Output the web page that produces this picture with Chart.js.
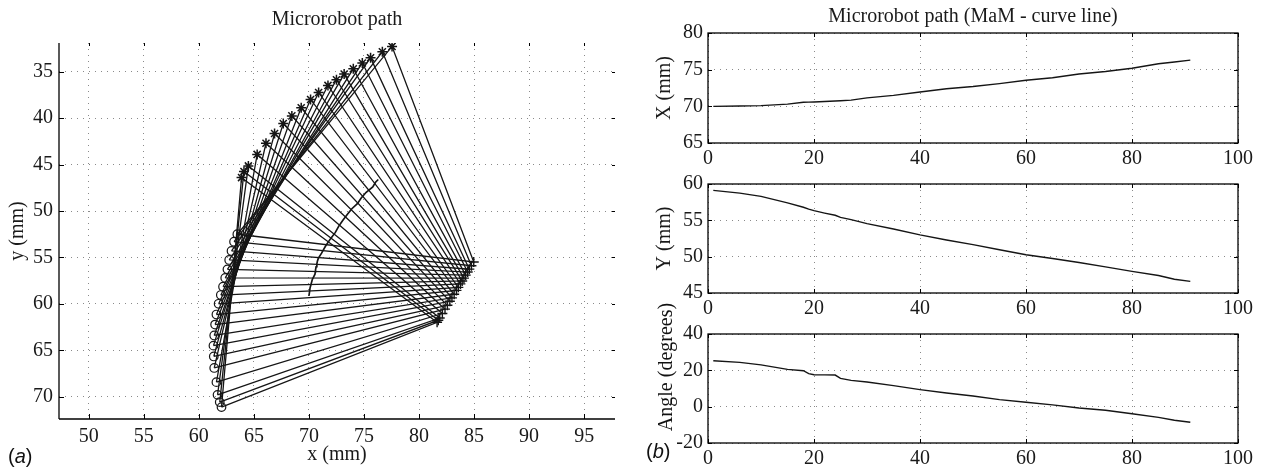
<!DOCTYPE html>
<html><head><meta charset="utf-8">
<script src="https://cdn.jsdelivr.net/npm/chart.js@4.4.1/dist/chart.umd.min.js"></script>
<style>
html,body{margin:0;padding:0;background:#fff;}
#wrap{position:relative;width:1263px;height:467px;overflow:hidden;background:#fff;}
canvas{position:absolute;}
.lab{position:absolute;font-family:'Liberation Sans',Arial,sans-serif;font-size:20px;color:#111;line-height:1;white-space:nowrap;}
.rot{position:absolute;font-family:'Liberation Serif','Times New Roman',serif;font-size:20px;color:#111;white-space:nowrap;line-height:1;transform:translate(-50%,-50%) rotate(-90deg);}
</style></head><body>
<div id="wrap">
<canvas id="c0" width="640" height="467" style="left:0;top:0"></canvas>
<canvas id="c1" width="623" height="170" style="left:640px;top:0"></canvas>
<canvas id="c2" width="623" height="170" style="left:640px;top:150px"></canvas>
<canvas id="c3" width="623" height="167" style="left:640px;top:300px"></canvas>
<div class="lab" style="left:8px;top:446px">(<i>a</i>)</div>
<div class="lab" style="left:646px;top:441px">(<i>b</i>)</div>
<div class="rot" style="left:665px;top:367px">Angle (degrees)</div>
</div>
<script>
// ---- time series (sample index) ----
const tSample = [1,6,10,15,18,19,20,22,24,25,27,30,35,40,45,50,55,60,65,70,75,80,85,88,91];
const xPos = [70.0,70.05,70.1,70.3,70.55,70.58,70.6,70.65,70.72,70.77,70.85,71.15,71.5,71.95,72.4,72.7,73.1,73.55,73.9,74.4,74.75,75.2,75.8,76.05,76.3];
const yPos = [59.13,58.75,58.3,57.4,56.8,56.55,56.33,56.0,55.7,55.4,55.1,54.54,53.8,53.0,52.3,51.65,50.96,50.27,49.75,49.2,48.6,47.98,47.4,46.9,46.6];
const angleDeg = [25.3,24.4,23.0,20.5,19.8,18.2,17.6,17.5,17.4,15.6,14.5,13.6,11.6,9.4,7.5,5.9,3.9,2.4,1.0,-0.7,-2.0,-3.9,-5.9,-7.5,-8.6];

// ---- triangle vertices (panel a), one per plotted step ----
const circX = [62.06,61.9,61.7,61.6,61.4,61.36,61.33,61.4,61.48,61.6,61.8,62.0,62.2,62.4,62.6,62.76,62.97,63.2,63.5];
const circY = [71.12,70.58,69.8,68.43,66.9,65.66,64.5,63.4,62.23,61.15,59.99,59.05,58.15,57.2,56.28,55.27,54.3,53.3,52.5];
const starX = [63.88,64.1,64.5,65.3,66.1,66.88,67.67,68.45,69.3,70.15,70.88,71.73,72.5,73.2,74.03,74.85,75.6,76.67,77.55];
const starY = [46.4,45.75,45.14,43.9,42.7,41.65,40.57,39.75,38.88,37.98,37.23,36.47,35.86,35.25,34.68,34.06,33.5,32.84,32.27];
const plusX = [81.64,81.75,81.88,82.12,82.36,82.58,82.8,82.99,83.19,83.4,83.57,83.76,83.92,84.08,84.24,84.42,84.57,84.76,84.97];
const plusY = [61.98,61.76,61.52,61.04,60.57,60.15,59.72,59.35,58.96,58.55,58.22,57.85,57.53,57.23,56.9,56.57,56.26,55.89,55.49];

// ---- tick labels ----
const leftXTicks = [50,55,60,65,70,75,80,85,90,95];
const leftYTicks = [35,40,45,50,55,60,65,70];
const rightXTicks = [0,20,40,60,80,100];
const xPanelTicks = [65,70,75,80];
const yPanelTicks = [45,50,55,60];
const anglePanelTicks = [-20,0,20,40];

Chart.defaults.font.family = "'Liberation Serif','Times New Roman',serif";
Chart.defaults.font.size = 20;
Chart.defaults.color = '#1a1a1a';

const INK = '#151515';
const GRID = '#8a8a8a';

const frame = {
  id: 'frame',
  afterDatasetsDraw(chart, args, o) {
    const {ctx, chartArea: a, scales: {x, y}} = chart;
    ctx.save();
    ctx.strokeStyle = '#000';
    ctx.lineWidth = 1;
    const seg = (x1, y1, x2, y2) => { ctx.beginPath(); ctx.moveTo(x1, y1); ctx.lineTo(x2, y2); ctx.stroke(); };
    x.ticks.forEach(t => {
      const p = Math.round(x.getPixelForValue(t.value)) + 0.5;
      seg(p, a.bottom, p, a.bottom - o.len);
      seg(p, a.top, p, a.top + o.lenTop);
    });
    y.ticks.forEach(t => {
      const p = Math.round(y.getPixelForValue(t.value)) + 0.5;
      seg(a.left, p, a.left + o.len, p);
      seg(a.right, p, a.right - o.lenTop, p);
    });
    ctx.lineWidth = 1.3;
    if (o.box) {
      ctx.strokeRect(a.left, a.top, a.right - a.left, a.bottom - a.top);
    } else {
      seg(a.left, a.top, a.left, a.bottom);
      seg(a.left, a.bottom, a.right, a.bottom);
    }
    ctx.restore();
  }
};

function fixedTicks(list) {
  return s => { s.ticks = list.map(v => ({value: v})); };
}

// ================= Panel (a) =================
const datasetsA = [];
for (let i = 0; i < circX.length; i++) {
  datasetsA.push({
    type: 'scatter', showLine: true, order: 2,
    data: [{x: circX[i], y: circY[i]}, {x: starX[i], y: starY[i]}, {x: plusX[i], y: plusY[i]}, {x: circX[i], y: circY[i]}],
    borderColor: INK, borderWidth: 1.3, pointRadius: 0, fill: false, tension: 0
  });
}
datasetsA.push({
  type: 'scatter', showLine: true, order: 1,
  data: tSample.map((t, i) => ({x: xPos[i], y: yPos[i]})),
  borderColor: INK, borderWidth: 1.7, pointRadius: 0, fill: false, tension: 0
});
datasetsA.push({type: 'scatter', order: 0, data: circX.map((v, i) => ({x: v, y: circY[i]})),
  pointStyle: 'circle', pointRadius: 4.3, pointBackgroundColor: 'rgba(0,0,0,0)', pointBorderColor: INK, pointBorderWidth: 1.2});
datasetsA.push({type: 'scatter', order: 0, data: starX.map((v, i) => ({x: v, y: starY[i]})),
  pointStyle: 'star', pointRadius: 5, pointBorderColor: INK, pointBorderWidth: 1.5});
datasetsA.push({type: 'scatter', order: 0, data: plusX.map((v, i) => ({x: v, y: plusY[i]})),
  pointStyle: 'cross', pointRadius: 5, pointBorderColor: INK, pointBorderWidth: 1.4});

new Chart(document.getElementById('c0'), {
  type: 'scatter',
  data: {datasets: datasetsA},
  plugins: [frame],
  options: {
    responsive: false, animation: false, devicePixelRatio: 1,
    layout: {padding: {left: 0, right: 25, top: 0, bottom: 0}},
    plugins: {
      legend: {display: false}, tooltip: {enabled: false},
      title: {display: true, fullSize: false, text: 'Microrobot path', color: '#1a1a1a',
        font: {size: 20, weight: 'normal'}, padding: {top: 8, bottom: 11}},
      frame: {len: 5, lenTop: 3, box: false}
    },
    scales: {
      x: {type: 'linear', min: 47.3, max: 97.8,
        afterBuildTicks: fixedTicks(leftXTicks),
        afterFit: s => { s.height = 48; s.paddingLeft = 0; s.paddingRight = 0; },
        grid: {color: GRID, lineWidth: 1, drawTicks: false},
        border: {display: false, dash: [1, 5]},
        ticks: {padding: 6, maxRotation: 0, autoSkip: false, callback: v => String(v)},
        title: {display: true, text: 'x (mm)', padding: {top: 0, bottom: 0}, font: {size: 20}}
      },
      y: {type: 'linear', reverse: true, min: 31.9, max: 72.4,
        afterBuildTicks: fixedTicks(leftYTicks),
        afterFit: s => { s.width = 59; s.paddingTop = 0; s.paddingBottom = 0; },
        grid: {color: GRID, lineWidth: 1, drawTicks: false},
        border: {display: false, dash: [1, 5]},
        ticks: {padding: 6, autoSkip: false, callback: v => String(v)},
        title: {display: true, text: 'y (mm)', padding: {top: 6, bottom: 0}, font: {size: 20}}
      }
    }
  }
});

// ================= Panel (b) =================
function panel(id, vals, yTicks, yTitle, opts) {
  return new Chart(document.getElementById(id), {
    type: 'scatter',
    data: {datasets: [{showLine: true, data: tSample.map((t, i) => ({x: t, y: vals[i]})),
      borderColor: INK, borderWidth: 1.4, pointRadius: 0, fill: false, tension: 0}]},
    plugins: [frame],
    options: {
      responsive: false, animation: false, devicePixelRatio: 1,
      layout: {padding: {left: 0, right: 25, top: opts.padTop, bottom: 0}},
      plugins: {
        legend: {display: false}, tooltip: {enabled: false},
        title: opts.title ? {display: true, fullSize: false, text: opts.title, color: '#1a1a1a',
          font: {size: 20, weight: 'normal'}, padding: {top: 5, bottom: 4}} : {display: false},
        frame: {len: 4, lenTop: 4, box: true}
      },
      scales: {
        x: {type: 'linear', min: 0, max: 100,
          afterBuildTicks: fixedTicks(rightXTicks),
          afterFit: s => { s.height = opts.xh; s.paddingLeft = 0; s.paddingRight = 0; },
          grid: {color: GRID, lineWidth: 1, drawTicks: false},
          border: {display: false, dash: [1, 5]},
          ticks: {padding: 4, maxRotation: 0, autoSkip: false, callback: v => String(v)}
        },
        y: {type: 'linear', min: yTicks[0], max: yTicks[yTicks.length - 1],
          afterBuildTicks: fixedTicks(yTicks),
          afterFit: s => { s.width = 68; s.paddingTop = 0; s.paddingBottom = 0; },
          grid: {color: GRID, lineWidth: 1, drawTicks: false},
          border: {display: false, dash: [1, 5]},
          ticks: {padding: 5, autoSkip: false, callback: v => String(v)},
          title: {display: !!yTitle, text: yTitle || '', padding: {top: 13, bottom: 0}, font: {size: 20}}
        }
      }
    }
  });
}
panel('c1', xPos, xPanelTicks, 'X (mm)', {padTop: 0, xh: 27, title: 'Microrobot path (MaM - curve line)'});
panel('c2', yPos, yPanelTicks, 'Y (mm)', {padTop: 34, xh: 27});
panel('c3', angleDeg, anglePanelTicks, '', {padTop: 34, xh: 24});
</script>
</body></html>
